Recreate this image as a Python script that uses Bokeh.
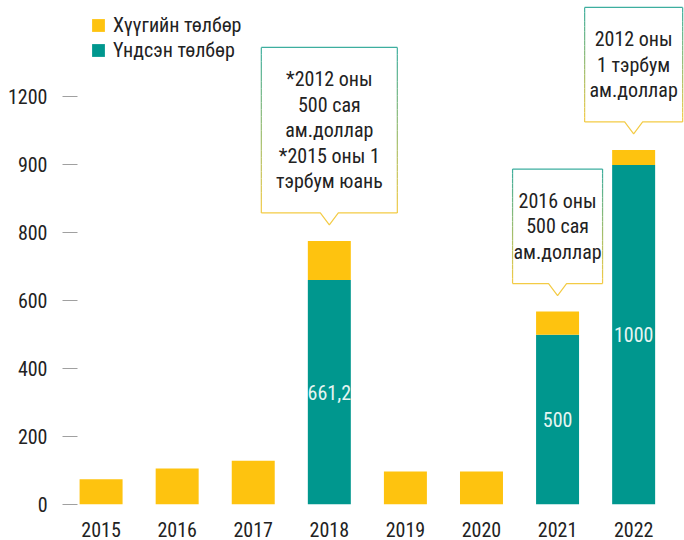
from bokeh.plotting import figure
from bokeh.models import ColumnDataSource, Range1d, FixedTicker, Legend, LegendItem
from bokeh.embed import file_html
from bokeh.resources import INLINE
from bokeh.core.properties import value

# ---------------- data ----------------
years = ["2015", "2016", "2017", "2018", "2019", "2020", "2021", "2022"]
interest = [74, 106, 129, 115, 97, 97, 68, 44]          # Хүүгийн төлбөр
principal = [0, 0, 0, 661.2, 0, 0, 500, 1000]           # Үндсэн төлбөр
series_names = ["Хүүгийн төлбөр", "Үндсэн төлбөр"]
y_ticks = [0, 200, 400, 600, 800, 1000, 1200]
y_tick_labels = ["0", "200", "400", "600", "800", "900", "1200"]
notes = {
    "2018": ["*2012 оны", "500 сая", "ам.доллар", "*2015 оны 1", "тэрбум юань"],
    "2021": ["2016 оны", "500 сая", "ам.доллар"],
    "2022": ["2012 оны", "1 тэрбум", "ам.доллар"],
}

# ---------------- style ----------------
FONT = "'Roboto Condensed', 'DejaVu Sans Condensed', Lato"
YELLOW = "#FEC30F"
TEAL = "#00978E"
TXT = "#222222"
note_box_width_px = {"2018": 136, "2021": 90, "2022": 98}

W, H = 684, 540
BL, BR, BT, BB = 77, 0, 0, 36
X0 = -0.31
Y0, Y1 = 0, 1484
sx = 76.08
X1 = X0 + (W - BL - BR) / sx
sy = (H - BT - BB) / (Y1 - Y0)

p = figure(width=W, height=H, x_range=Range1d(X0, X1), y_range=Range1d(Y0, Y1),
           output_backend="svg", toolbar_location=None,
           min_border_left=BL, min_border_right=BR, min_border_top=BT, min_border_bottom=BB)
p.outline_line_color = None
p.xgrid.visible = False
p.ygrid.visible = False
p.background_fill_color = "white"

xs = list(range(len(years)))
src = ColumnDataSource(dict(x=xs, principal=principal, interest=interest))
rs = p.vbar_stack(["principal", "interest"], x="x", width=0.565, color=[TEAL, YELLOW],
                  line_color=None, source=src)

# labels inside teal bars
lx, ly, lt = [], [], []
for i, v in enumerate(principal):
    if v > 0:
        lx.append(i)
        ly.append(v / 2)
        lt.append(f"{v:g}".replace(".", ","))
p.text(x=lx, y=ly, text=lt, text_align="center", text_baseline="middle",
       text_color="#E6F5F2", text_font=value(FONT), text_font_size="20px")

# callout boxes
def hexmix(c1, c2, t):
    a = [int(c1[k:k + 2], 16) for k in (1, 3, 5)]
    b = [int(c2[k:k + 2], 16) for k in (1, 3, 5)]
    return "#" + "".join(f"{round(a[j] + (b[j] - a[j]) * t):02x}" for j in range(3))

B_TOP = "#3DAE9F"
B_BOT = "#F3CB45"
for yr, lines in notes.items():
    i = years.index(yr)
    total = principal[i] + interest[i]
    tip = total + 16 / sy
    base = tip + 12 / sy
    hpx = 38 + 25.5 * len(lines)
    top = base + hpx / sy
    hw = note_box_width_px[yr] / 2 / sx
    pw = 9 / sx
    cx = i
    p.quad(left=[cx - hw], right=[cx + hw], bottom=[base], top=[top],
           fill_color="white", line_color=None)
    p.line([cx - hw, cx + hw], [top, top], line_color=B_TOP, line_width=1.2)
    N = 24
    segx, segy, segc = [], [], []
    for k in range(N):
        y_a = top - (top - base) * k / N
        y_b = top - (top - base) * (k + 1) / N
        c = hexmix(B_TOP, B_BOT, (k + 0.5) / N)
        segx += [[cx - hw, cx - hw], [cx + hw, cx + hw]]
        segy += [[y_a, y_b], [y_a, y_b]]
        segc += [c, c]
    p.multi_line(segx, segy, line_color=segc, line_width=1.2)
    p.line([cx - hw, cx - pw, cx, cx + pw, cx + hw], [base, base, tip, base, base],
           line_color=B_BOT, line_width=1.2)
    n = len(lines)
    ymid = (base + top) / 2
    ty = [ymid + ((n - 1) / 2 - k) * 25.5 / sy for k in range(n)]
    p.text(x=[cx] * n, y=ty, text=lines, text_align="center", text_baseline="middle",
           text_color=TXT, text_font=value(FONT), text_font_size="20px")

# axes
p.yaxis.ticker = FixedTicker(ticks=y_ticks)
p.yaxis.major_label_overrides = dict(zip(y_ticks, y_tick_labels))
p.yaxis.axis_line_color = None
p.yaxis.major_tick_out = 15
p.yaxis.major_tick_in = 0
p.yaxis.major_tick_line_color = "#A0A0A0"
p.yaxis.minor_tick_line_color = None
p.yaxis.major_label_standoff = 15
p.xaxis.ticker = FixedTicker(ticks=xs)
p.xaxis.major_label_overrides = dict(zip(xs, years))
p.xaxis.axis_line_color = None
p.xaxis.major_tick_line_color = None
p.xaxis.minor_tick_line_color = None
p.xaxis.major_tick_out = 0
p.xaxis.major_label_standoff = 17
for ax in (p.xaxis, p.yaxis):
    ax.major_label_text_font = FONT
    ax.major_label_text_font_size = "20px"
    ax.major_label_text_color = TXT

legend = Legend(items=[LegendItem(label=series_names[0], renderers=[rs[1]]),
                       LegendItem(label=series_names[1], renderers=[rs[0]])],
                location="top_left", margin=13, padding=0, spacing=1,
                glyph_width=16, glyph_height=16, label_standoff=7, label_height=20,
                border_line_color=None, background_fill_alpha=0,
                label_text_font=FONT, label_text_font_size="20px", label_text_color=TXT)
p.add_layout(legend)

open("out.html", "w").write(file_html(p, INLINE))
